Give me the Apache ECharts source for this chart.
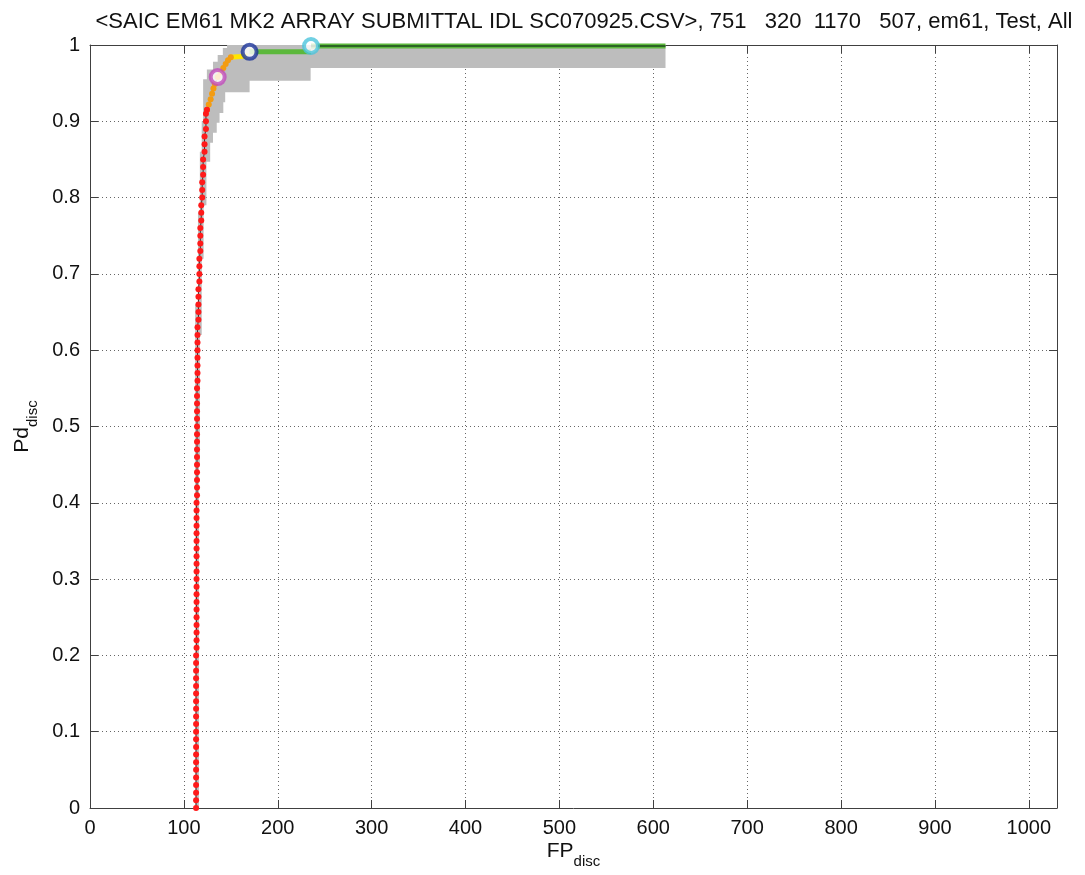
<!DOCTYPE html>
<html>
<head>
<meta charset="utf-8">
<script src="https://cdn.jsdelivr.net/npm/echarts@6/dist/echarts.min.js"></script>
<style>
  html, body { margin: 0; padding: 0; background: #fff; }
  #chart { width: 1085px; height: 875px; }
</style>
</head>
<body>
<div id="chart"></div>
<script>
// ROC-style discrimination curve: Pd vs. false positives
const titleText = '<SAIC EM61 MK2 ARRAY SUBMITTAL IDL SC070925.CSV>, 751   320  1170   507, em61, Test, All';

// Red segment (threshold points)
const redFp = [
  113, 113, 113, 113, 113, 113, 113, 113, 113, 113,
  113, 113, 113, 113, 113, 113, 113, 113, 113, 113,
  113, 113.5, 113.5, 113.5, 113.5, 113.5, 113.5, 113.5, 113.5, 113.5,
  113.5, 113.5, 113.5, 113.5, 113.5, 113.5, 113.5, 113.5, 113.5, 113.5,
  113.5, 114, 114, 114, 114, 114, 114, 114, 114, 114,
  114, 114, 114, 114, 114, 114, 114.5, 114.5, 114.5, 114.5,
  114.5, 114.5, 114.5, 114.5, 115.5, 115.5, 115.5, 115.5, 115.5, 116.5,
  116.5, 116.5, 116.5, 117.5, 117.5, 117.5, 117.5, 118.5, 118.5, 118.5,
  119.5, 119.5, 119.5, 120.5, 120.5, 120.5, 122, 122, 122, 123.5,
  123.5, 123.5, 124.6
];
const redPd = [
  0.00, 0.01, 0.02, 0.03, 0.04, 0.05, 0.06, 0.07, 0.08, 0.09,
  0.10, 0.11, 0.12, 0.13, 0.14, 0.15, 0.16, 0.17, 0.18, 0.19,
  0.20, 0.21, 0.22, 0.23, 0.24, 0.25, 0.26, 0.27, 0.28, 0.29,
  0.30, 0.31, 0.32, 0.33, 0.34, 0.35, 0.36, 0.37, 0.38, 0.39,
  0.40, 0.41, 0.42, 0.43, 0.44, 0.45, 0.46, 0.47, 0.48, 0.49,
  0.50, 0.51, 0.52, 0.53, 0.54, 0.55, 0.56, 0.57, 0.58, 0.59,
  0.60, 0.61, 0.62, 0.63, 0.64, 0.65, 0.66, 0.67, 0.68, 0.69,
  0.70, 0.71, 0.72, 0.73, 0.74, 0.75, 0.76, 0.77, 0.78, 0.79,
  0.80, 0.81, 0.82, 0.83, 0.84, 0.85, 0.86, 0.87, 0.88, 0.89,
  0.90, 0.91, 0.915
];

// Orange segment
const orangeFp = [124.6, 126.5, 128.5, 130, 131.5, 133, 136, 139, 142, 144.5, 147, 150];
const orangePd = [0.915, 0.922, 0.929, 0.936, 0.943, 0.949, 0.958, 0.964, 0.970, 0.975, 0.980, 0.984];

// Yellow segment
const yellowFp = [150, 160, 168];
const yellowPd = [0.984, 0.985, 0.986];

// Green segments
const greenLowFp = [170, 235.4];
const greenLowPd = [0.991, 0.991];
const greenTopFp = [235.4, 613];
const greenTopPd = [0.9987, 0.9987];

// Operating-point circles
const circleFp = [136, 170, 235.4];
const circlePd = [0.958, 0.991, 0.9987];
const circleColors = ['#c04cbc', '#1a3399', '#4cc4dc'];

// Confidence band outline (polygon vertices)
const bandFp = [
  116, 116, 117, 117, 119, 119, 121, 121, 124, 124,
  128, 128, 131, 131, 135, 135, 138, 138, 142, 142,
  144, 144, 170, 170, 235, 235, 613, 613,
  146, 146, 141.5, 141.5, 136, 136, 131, 131, 124.5, 124.5,
  120.5, 120.5, 119, 119, 117, 117, 115, 115, 112, 112
];
const bandPd = [
  0.0, 0.45, 0.45, 0.62, 0.62, 0.72, 0.72, 0.79, 0.79, 0.847,
  0.847, 0.872, 0.872, 0.885, 0.885, 0.898, 0.898, 0.911, 0.911, 0.925,
  0.925, 0.938, 0.938, 0.953, 0.953, 0.970, 0.970, 1.0,
  1.0, 0.996, 0.996, 0.987, 0.987, 0.978, 0.978, 0.968, 0.968, 0.955,
  0.955, 0.90, 0.90, 0.86, 0.86, 0.78, 0.78, 0.66, 0.66, 0.0
];

const pairs = (xs, ys) => xs.map((x, i) => [x, ys[i]]);

const FONT = "'Liberation Sans', Arial, Helvetica, sans-serif";
const AXIS_COLOR = '#404040';

const chart = echarts.init(document.getElementById('chart'), null, { renderer: 'canvas' });

const option = {
  backgroundColor: '#ffffff',
  animation: false,
  title: {
    text: titleText,
    left: 579,
    top: 6,
    textAlign: 'center',
    textStyle: { fontFamily: FONT, fontSize: 22, fontWeight: 'normal', color: '#111' }
  },
  grid: { left: 90, right: 28, top: 45, bottom: 67, show: false },
  xAxis: [
    {
      type: 'value', position: 'bottom', min: 0, max: 1030, interval: 100,
      axisLine: { show: true, onZero: false, lineStyle: { color: AXIS_COLOR, width: 1 } },
      axisTick: { show: true, inside: true, length: 8, lineStyle: { color: AXIS_COLOR } },
      axisLabel: {
        fontFamily: FONT, fontSize: 20, color: '#111', margin: 10,
        showMaxLabel: false, formatter: v => String(v)
      },
      splitLine: { show: true, lineStyle: { color: '#666', width: 1, type: [1, 3] } },
      name: '{m|FP}{s|disc}',
      nameLocation: 'middle', nameGap: 33,
      nameMoveOverlap: false,
      nameTextStyle: {
        rich: {
          m: { fontFamily: FONT, fontSize: 21, color: '#111', verticalAlign: 'top', lineHeight: 24 },
          s: { fontFamily: FONT, fontSize: 15, color: '#111', verticalAlign: 'top', padding: [13, 0, 0, 0], lineHeight: 24 }
        }
      }
    },
    {
      type: 'value', position: 'top', min: 0, max: 1030, interval: 100,
      axisLine: { show: true, onZero: false, lineStyle: { color: AXIS_COLOR, width: 1 } },
      axisTick: { show: true, inside: true, length: 8, lineStyle: { color: AXIS_COLOR } },
      axisLabel: { show: false },
      splitLine: { show: false }
    }
  ],
  yAxis: [
    {
      type: 'value', position: 'left', min: 0, max: 1, interval: 0.1,
      axisLine: { show: true, onZero: false, lineStyle: { color: AXIS_COLOR, width: 1 } },
      axisTick: { show: true, inside: true, length: 8, lineStyle: { color: AXIS_COLOR } },
      axisLabel: { fontFamily: FONT, fontSize: 20, color: '#111', margin: 10 },
      splitLine: { show: true, lineStyle: { color: '#666', width: 1, type: [1, 3] } },
      name: '{m|Pd}{s|disc}',
      nameLocation: 'middle', nameRotate: 90, nameGap: 54,
      nameMoveOverlap: false,
      nameTextStyle: {
        rich: {
          m: { fontFamily: FONT, fontSize: 21, color: '#111', verticalAlign: 'top', lineHeight: 24 },
          s: { fontFamily: FONT, fontSize: 15, color: '#111', verticalAlign: 'top', padding: [13, 0, 0, 0], lineHeight: 24 }
        }
      }
    },
    {
      type: 'value', position: 'right', min: 0, max: 1, interval: 0.1,
      axisLine: { show: true, onZero: false, lineStyle: { color: AXIS_COLOR, width: 1 } },
      axisTick: { show: true, inside: true, length: 8, lineStyle: { color: AXIS_COLOR } },
      axisLabel: { show: false },
      splitLine: { show: false }
    }
  ],
  series: [
    {
      // confidence band
      type: 'custom',
      xAxisIndex: 0, yAxisIndex: 0,
      silent: true,
      z: 1,
      data: [0],
      renderItem: function (params, api) {
        const pts = bandFp.map((x, i) => api.coord([x, bandPd[i]]));
        return {
          type: 'polygon',
          shape: { points: pts },
          style: { fill: '#bdbdbd', stroke: null }
        };
      }
    },
    {
      type: 'line', xAxisIndex: 0, yAxisIndex: 0, z: 3,
      data: pairs(greenLowFp, greenLowPd),
      symbol: 'none',
      lineStyle: { color: '#5cb83c', width: 5 }
    },
    {
      type: 'line', xAxisIndex: 0, yAxisIndex: 0, z: 3,
      data: pairs(greenTopFp, greenTopPd),
      symbol: 'none',
      lineStyle: { color: '#5cb83c', width: 5 }
    },
    {
      type: 'line', xAxisIndex: 0, yAxisIndex: 0, z: 4,
      data: pairs(greenTopFp, greenTopPd),
      symbol: 'none',
      lineStyle: { color: '#1d4a1d', width: 1.5 }
    },
    {
      type: 'line', xAxisIndex: 0, yAxisIndex: 0, z: 3,
      data: pairs(yellowFp, yellowPd),
      symbol: 'none',
      lineStyle: { color: '#ffe600', width: 5 }
    },
    {
      type: 'line', xAxisIndex: 0, yAxisIndex: 0, z: 4,
      data: pairs(orangeFp, orangePd),
      symbol: 'circle', symbolSize: 6,
      itemStyle: { color: '#f39c12' },
      lineStyle: { color: '#555', width: 1, type: [1, 2] }
    },
    {
      type: 'line', xAxisIndex: 0, yAxisIndex: 0, z: 4,
      data: pairs(redFp, redPd),
      symbol: 'circle', symbolSize: 6,
      itemStyle: { color: '#ff1a1a' },
      lineStyle: { color: '#333', width: 1 }
    },
    {
      type: 'scatter', xAxisIndex: 0, yAxisIndex: 0, z: 5,
      data: circleFp.map((x, i) => ({
        value: [x, circlePd[i]],
        itemStyle: { color: '#ffffff', borderColor: circleColors[i], borderWidth: 4 }
      })),
      symbol: 'circle', symbolSize: 14
    }
  ]
};

chart.setOption(option);
</script>
</body>
</html>
